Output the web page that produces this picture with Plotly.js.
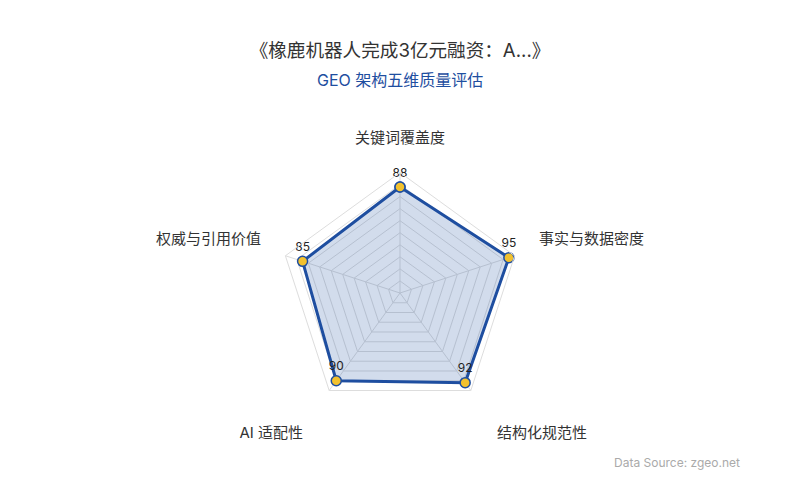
<!DOCTYPE html>
<html>
<head>
<meta charset="utf-8">
<script src="https://cdn.plot.ly/plotly-3.0.1.min.js"></script>
<style>html,body{margin:0;padding:0;background:#fff}#chart{width:800px;height:500px}</style>
</head>
<body>
<div id="chart"></div>
<script>
// 五个维度和得分
var dims = ['关键词覆盖度', '事实与数据密度', '结构化规范性', 'AI 适配性', '权威与引用价值'];
var scores = [88, 95, 92, 90, 85];

var fontFam = 'Inter, "Noto Sans CJK SC", sans-serif';

// 闭合多边形
var theta = dims.concat([dims[0]]);
var r = scores.concat([scores[0]]);

var trace = {
    type: 'scatterpolar',
    r: r,
    theta: theta,
    mode: 'lines+markers+text',
    text: scores.map(String).concat(['']),
    textposition: 'top center',
    textfont: { family: fontFam, size: 12, color: '#222' },
    fill: 'toself',
    fillcolor: 'rgba(30,78,160,0.2)',
    line: { color: '#1e4ea0', width: 3 },
    marker: { size: 10, color: '#f2c12e', line: { color: '#1e4ea0', width: 1.5 } },
    cliponaxis: false,
    hoverinfo: 'skip',
    showlegend: false
};

// 维度名称：放在一个更大的、隐藏的极坐标里（同一个中心）
var nameTrace = {
    type: 'scatterpolar',
    subplot: 'polar2',
    r: [86, 86, 97, 97, 86],
    theta: dims,
    mode: 'text',
    text: dims,
    textposition: ['top center', 'top right', 'bottom right', 'bottom left', 'top left'],
    textfont: { family: fontFam, size: 15, color: '#333' },
    cliponaxis: false,
    hoverinfo: 'skip',
    showlegend: false
};

var layout = {
    width: 800,
    height: 500,
    paper_bgcolor: '#fff',
    font: { family: fontFam, color: '#333' },
    margin: { l: 0, r: 0, t: 0, b: 0 },
    title: {
        text: '《橡鹿机器人完成3亿元融资：A...》',
        font: { size: 18.6, color: '#333', family: fontFam },
        x: 0.5, xanchor: 'center', y: 0.9, yanchor: 'middle'
    },
    annotations: [
        {
            text: 'GEO 架构五维质量评估', xref: 'paper', yref: 'paper',
            x: 0.5, y: 0.84, xanchor: 'center', yanchor: 'middle', showarrow: false,
            font: { size: 16, color: '#1e4ea0', family: fontFam }
        },
        {
            text: 'Data Source: zgeo.net', xref: 'paper', yref: 'paper',
            x: 0.927, y: 0.076, xanchor: 'right', yanchor: 'middle', showarrow: false,
            font: { size: 12, color: '#aaa', family: fontFam }
        }
    ],
    polar: {
        domain: { x: [0.3, 0.7], y: [0.173, 0.655] },
        gridshape: 'linear',
        bgcolor: 'rgba(0,0,0,0)',
        radialaxis: {
            range: [0, 100], dtick: 10, showticklabels: false, ticks: '',
            showline: false, gridcolor: '#ddd', gridwidth: 1
        },
        angularaxis: {
            rotation: 90, direction: 'clockwise', ticks: '', showticklabels: false,
            linecolor: '#ddd', gridcolor: '#ddd'
        }
    },
    polar2: {
        domain: { x: [0.25, 0.75], y: [0.074, 0.754] },
        bgcolor: 'rgba(0,0,0,0)',
        radialaxis: {
            range: [0, 100], visible: false, showgrid: false, showline: false
        },
        angularaxis: {
            rotation: 90, direction: 'clockwise', ticks: '', showticklabels: false,
            showline: false, showgrid: false
        }
    }
};

Plotly.newPlot('chart', [trace, nameTrace], layout, { displayModeBar: false, staticPlot: true });
</script>
</body>
</html>
